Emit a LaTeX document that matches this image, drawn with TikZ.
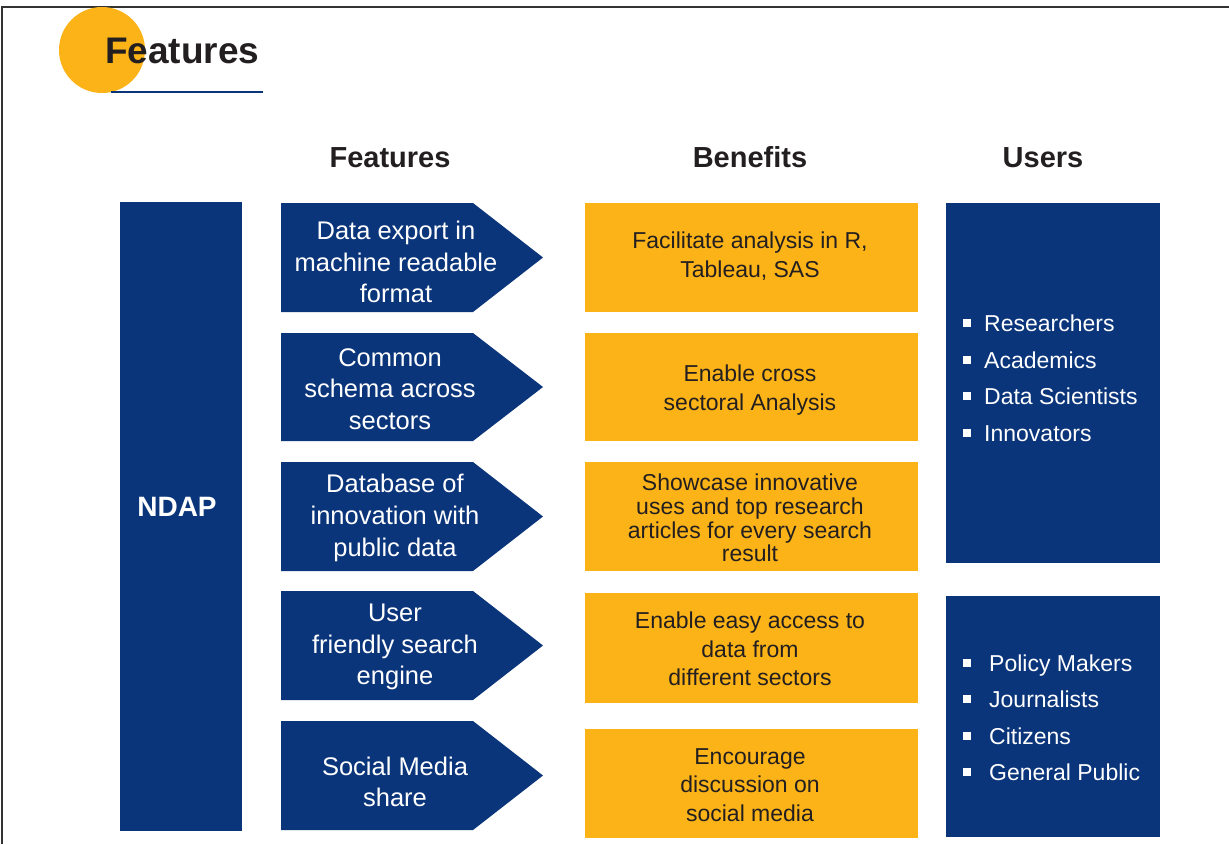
\documentclass[tikz,border=0pt]{standalone}
\usepackage{fontspec}
\setmainfont{Liberation Sans}
\definecolor{ndblue}{HTML}{0B357A}
\definecolor{ndyellow}{HTML}{FBB318}
\definecolor{ndtext}{HTML}{231F20}
\definecolor{ndframe}{HTML}{333333}
\begin{document}
\begin{tikzpicture}[x=1pt,y=-1pt,
  bluefill/.style={fill=ndblue},
  yellowfill/.style={fill=ndyellow},
  feattext/.style={text=white, align=center, inner sep=0pt, font=\fontsize{25.5}{31.7}\selectfont},
  bentext/.style={text=ndtext, align=center, inner sep=0pt, font=\fontsize{23}{28.3}\selectfont},
  headtext/.style={text=ndtext, anchor=base, inner sep=0pt, font=\fontsize{29}{31}\selectfont\bfseries},
  usertext/.style={text=white, anchor=base west, inner sep=0pt, font=\fontsize{23}{26}\selectfont},
  bulletsq/.style={fill=white}
]
\useasboundingbox (0,0) rectangle (1229,844);
\fill[white] (0,0) rectangle (1229,844);
% frame
\draw[ndframe, line width=2pt] (2,844) -- (2,7) -- (1229,7);
% title
\fill[ndyellow] (102,50) circle (43pt);
\node[anchor=base west, inner sep=0pt, text=ndtext, font=\fontsize{37}{40}\selectfont\bfseries] (title) at (105,63) {Features};
\draw[ndblue, line width=1.6pt] (111,92) -- (263,92);
% headers
\node[headtext] (hfeat) at (390,167) {Features};
\node[headtext] (hben) at (750,167) {Benefits};
\node[headtext] (huser) at (1043,167) {Users};
% NDAP
\fill[bluefill] (120,202) rectangle (242,831);
\node[text=white, inner sep=0pt, font=\fontsize{28}{30}\selectfont\bfseries] (ndap) at (177,507) {NDAP};
% feature arrows
\foreach \t/\b in {203/312, 333/441, 462/571, 591/700, 721/830}{
  \fill[bluefill] (281,\t) -- (473,\t) -- (543,{(\t+\b)/2}) -- (473,\b) -- (281,\b) -- cycle;
}
\node[feattext] (f1) at (396,262) {Data export in\\machine readable\\format};
\node[feattext] (f2) at (390,389) {Common\\schema across\\sectors};
\node[feattext] (f3) at (395,518) {Database of\\innovation with\\public data};
\node[feattext] (f4) at (395,647) {User\\friendly search\\engine};
\node[feattext] (f5) at (395,782) {Social Media\\share};
% benefit boxes
\foreach \t/\b in {203/312, 333/441, 462/571, 593/703, 729/838}{
  \fill[yellowfill] (585,\t) rectangle (918,\b);
}
\node[bentext] (b1) at (750,256) {Facilitate analysis in R,\\Tableau, SAS};
\node[bentext] (b2) at (750,390) {Enable cross\\sectoral Analysis};
\node[bentext, font=\fontsize{23}{23.8}\selectfont] (b3) at (750,518) {Showcase innovative\\uses and top research\\articles for every search\\result};
\node[bentext] (b4) at (750,649) {Enable easy access to\\data from\\different sectors};
\node[bentext] (b5) at (750,785) {Encourage\\discussion on\\social media};
% users boxes
\fill[bluefill] (946,203) rectangle (1160,563);
\fill[bluefill] (946,596) rectangle (1160,837);
\foreach \y/\txt/\n in {331/Researchers/u1, 368/Academics/u2, 404/Data Scientists/u3, 441/Innovators/u4}{
  \fill[bulletsq] (963,\y-12) rectangle (971,\y-4);
  \node[usertext] (\n) at (984,\y) {\txt};
}
\foreach \y/\txt/\n in {671/Policy Makers/u5, 707/Journalists/u6, 744/Citizens/u7, 780/General Public/u8}{
  \fill[bulletsq] (963,\y-12) rectangle (971,\y-4);
  \node[usertext] (\n) at (989,\y) {\txt};
}
\end{tikzpicture}
\end{document}
